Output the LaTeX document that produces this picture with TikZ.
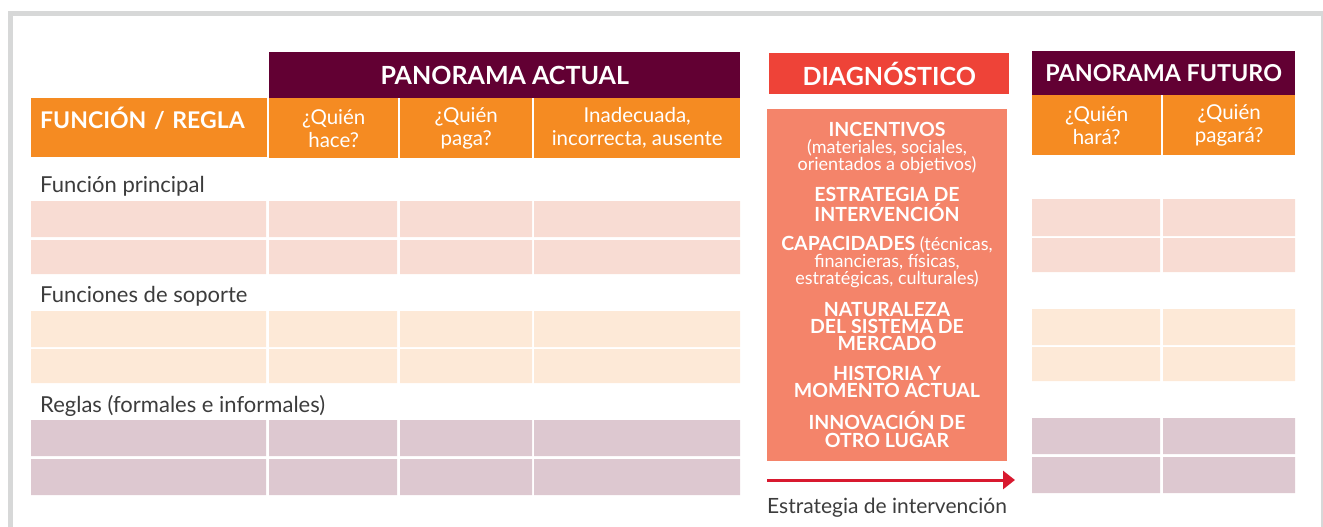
\documentclass[tikz,border=0pt]{standalone}
\usepackage{fontspec}
\setmainfont{Lato}
\usetikzlibrary{
    arrows.meta,
    positioning
}

\definecolor{titlepurple}{RGB}{98,0,51}
\definecolor{headorange}{RGB}{245,139,34}
\definecolor{diagred}{RGB}{238,67,56}
\definecolor{diagsalmon}{RGB}{244,132,106}
\definecolor{rowpink}{RGB}{248,220,211}
\definecolor{rowpeach}{RGB}{253,233,215}
\definecolor{rowmauve}{RGB}{221,200,208}
\definecolor{framegray}{RGB}{215,216,216}
\definecolor{arrowred}{RGB}{216,25,47}
\definecolor{labelgray}{RGB}{60,60,60}

\newcommand{\diagbf}[1]{{\fontsize{19.5}{17.3}\selectfont\bfseries #1}}

\tikzset{
    titlebox/.style={anchor=north west, fill=titlepurple, text=white, inner sep=0pt,
        font=\bfseries\fontsize{25}{27}\selectfont},
    headbox/.style={anchor=north west, fill=headorange, text=white, inner sep=0pt,
        align=center, font=\fontsize{20.5}{23}\selectfont},
    rowlabel/.style={anchor=base west, inner sep=0pt, text=labelgray,
        font=\fontsize{22}{24}\selectfont},
    diagtext/.style={text=white, inner sep=0pt, align=center,
        font=\fontsize{18}{17.3}\selectfont}
}

\begin{document}
\begin{tikzpicture}[x=1pt,y=-1pt]
    \useasboundingbox (0,0) rectangle (1323,527);

    \draw[framegray,line width=5pt] (10.5,527) -- (10.5,13.5) -- (1323.5,13.5) -- (1323.5,527);

    % panorama actual
    \node[titlebox,minimum width=471pt,minimum height=46pt] (actual) at (269,52) {PANORAMA ACTUAL};
    \node[headbox,minimum width=236pt,text width=218pt,inner xsep=9pt,align=left,text height=30pt,text depth=29pt,
        font=\bfseries\fontsize{23}{25}\selectfont] (regla) at (31,98) {FUNCIÓN / REGLA};
    \node[headbox,minimum width=129pt,minimum height=60pt] (hace) at (269,98) {¿Quién\\hace?};
    \node[headbox,minimum width=132pt,minimum height=60pt] (paga) at (400,98) {¿Quién\\paga?};
    \node[headbox,minimum width=206pt,minimum height=60pt] (inadecuada) at (534,98) {Inadecuada,\\incorrecta, ausente};

    \node[rowlabel] (principal) at (40,192) {Función principal};
    \fill[rowpink] (31,201) rectangle (266,237) (269,201) rectangle (397,237) (400,201) rectangle (532,237) (534,201) rectangle (740,237);
    \fill[rowpink] (31,240) rectangle (266,274) (269,240) rectangle (397,274) (400,240) rectangle (532,274) (534,240) rectangle (740,274);

    \node[rowlabel] (soporte) at (40,302) {Funciones de soporte};
    \fill[rowpeach] (31,311) rectangle (266,347) (269,311) rectangle (397,347) (400,311) rectangle (532,347) (534,311) rectangle (740,347);
    \fill[rowpeach] (31,349) rectangle (266,383) (269,349) rectangle (397,383) (400,349) rectangle (532,383) (534,349) rectangle (740,383);

    \node[rowlabel] (reglas) at (40,412) {Reglas (formales e informales)};
    \fill[rowmauve] (31,420) rectangle (266,456) (269,420) rectangle (397,456) (400,420) rectangle (532,456) (534,420) rectangle (740,456);
    \fill[rowmauve] (31,459) rectangle (266,495) (269,459) rectangle (397,495) (400,459) rectangle (532,495) (534,459) rectangle (740,495);

    % diagnostico
    \node[titlebox,fill=diagred,minimum width=240pt,minimum height=41pt] (diag) at (769,53) {DIAGNÓSTICO};
    \node[anchor=north west,fill=diagsalmon,minimum width=240pt,minimum height=352pt,inner sep=0pt] (diagbox) at (767,109) {};

    \node[diagtext] (incentivos) at (887,148) {\diagbf{INCENTIVOS}\\(materiales, sociales,\\orientados a objetivos)};
    \node[diagtext] (estrategia) at (887,204.5) {\diagbf{ESTRATEGIA DE}\\\diagbf{INTERVENCIÓN}};
    \node[diagtext] (capacidades) at (887,262) {\diagbf{CAPACIDADES} (técnicas,\\financieras, físicas,\\estratégicas, culturales)};
    \node[diagtext] (naturaleza) at (887,326.5) {\diagbf{NATURALEZA}\\\diagbf{DEL SISTEMA DE}\\\diagbf{MERCADO}};
    \node[diagtext] (historia) at (887,382) {\diagbf{HISTORIA Y}\\\diagbf{MOMENTO ACTUAL}};
    \node[diagtext] (innovacion) at (887,429.5) {\diagbf{INNOVACIÓN DE}\\\diagbf{OTRO LUGAR}};

    \coordinate (arrowstart) at (767,480);
    \coordinate (arrowend) at (1015,480);
    \draw[arrowred,line width=3pt,-{Triangle[length=12pt,width=18pt]}] (arrowstart) -- (arrowend);
    \node[rowlabel,font=\fontsize{21}{23}\selectfont] (intervencion) at (767,513) {Estrategia de intervención};

    % panorama futuro
    \node[titlebox,minimum width=263pt,minimum height=44pt,font=\bfseries\fontsize{23.3}{25}\selectfont] (futuro) at (1032,51) {PANORAMA FUTURO};
    \node[headbox,minimum width=129pt,minimum height=60pt] (hara) at (1032,95) {¿Quién\\hará?};
    \node[headbox,minimum width=132pt,minimum height=60pt] (pagara) at (1163,95) {¿Quién\\pagará?};

    \fill[rowpink] (1032,199) rectangle (1160,236) (1163,199) rectangle (1295,236);
    \fill[rowpink] (1032,238) rectangle (1160,272) (1163,238) rectangle (1295,272);
    \fill[rowpeach] (1032,309) rectangle (1160,345) (1163,309) rectangle (1295,345);
    \fill[rowpeach] (1032,347) rectangle (1160,381) (1163,347) rectangle (1295,381);
    \fill[rowmauve] (1032,418) rectangle (1160,454) (1163,418) rectangle (1295,454);
    \fill[rowmauve] (1032,457) rectangle (1160,493) (1163,457) rectangle (1295,493);
\end{tikzpicture}
\end{document}
